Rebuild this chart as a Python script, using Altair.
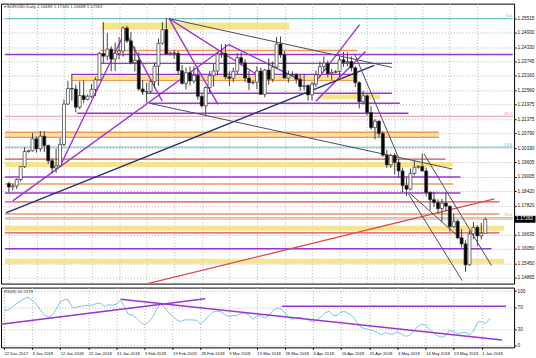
import altair as alt
import pandas as pd

# ---------------- data ----------------
date_labels = ["22 Dec 2017", "3 Jan 2018", "12 Jan 2018", "22 Jan 2018", "31 Jan 2018",
               "9 Feb 2018", "19 Feb 2018", "28 Feb 2018", "9 Mar 2018", "19 Mar 2018",
               "28 Mar 2018", "6 Apr 2018", "16 Apr 2018", "25 Apr 2018", "4 May 2018",
               "14 May 2018", "23 May 2018", "1 Jun 2018"]
label_bars = [-2, 5, 12, 19, 26, 33, 40, 47, 54, 61, 68, 75, 82, 89, 96, 103, 110, 117]

price_ticks = [1.25515, 1.24930, 1.24330, 1.23745, 1.23160, 1.22560, 1.21975, 1.21375,
               1.20790, 1.20190, 1.19605, 1.19005, 1.18420, 1.17820, 1.16635, 1.16050,
               1.15450, 1.14865]
rsi_ticks = [0, 30, 70, 100]

opens = [1.1873, 1.1860, 1.1863, 1.1890, 1.1943, 1.2005, 1.2008, 1.2057, 1.2016, 1.2068,
         1.2030, 1.1967, 1.1937, 1.1946, 1.2034, 1.2200, 1.2264, 1.2262, 1.2187, 1.2235,
         1.2219, 1.2232, 1.2260, 1.2300, 1.2408, 1.2397, 1.2426, 1.2385, 1.2409, 1.2418,
         1.2513, 1.2460, 1.2370, 1.2380, 1.2262, 1.2250, 1.2252, 1.2292, 1.2356, 1.2450,
         1.2506, 1.2406, 1.2410, 1.2409, 1.2337, 1.2285, 1.2329, 1.2295, 1.2318, 1.2232,
         1.2193, 1.2268, 1.2317, 1.2336, 1.2406, 1.2409, 1.2312, 1.2306, 1.2335, 1.2391,
         1.2370, 1.2307, 1.2288, 1.2290, 1.2336, 1.2240, 1.2340, 1.2302, 1.2352, 1.2447,
         1.2403, 1.2307, 1.2322, 1.2322, 1.2302, 1.2272, 1.2276, 1.2238, 1.2282, 1.2320,
         1.2354, 1.2368, 1.2325, 1.2330, 1.2334, 1.2382, 1.2371, 1.2375, 1.2349, 1.2288,
         1.2210, 1.2234, 1.2165, 1.2103, 1.2130, 1.2079, 1.1990, 1.1950, 1.1989, 1.1960,
         1.1925, 1.1865, 1.1850, 1.1915, 1.1940, 1.1944, 1.1925, 1.1837, 1.1807, 1.1795,
         1.1770, 1.1793, 1.1780, 1.1696, 1.1718, 1.1650, 1.1625, 1.1539, 1.1666, 1.1693,
         1.1658, 1.16689]
highs = [1.1880, 1.1873, 1.1895, 1.1945, 1.2023, 1.2012, 1.2081, 1.2066, 1.2089, 1.2088,
         1.2033, 1.1976, 1.2017, 1.2060, 1.2219, 1.2296, 1.2323, 1.2280, 1.2294, 1.2297,
         1.2240, 1.2283, 1.2311, 1.2415, 1.2537, 1.2493, 1.2437, 1.2454, 1.2476, 1.2520,
         1.2522, 1.2497, 1.2436, 1.2413, 1.2298, 1.2287, 1.2299, 1.2371, 1.2470, 1.2537,
         1.2555, 1.2415, 1.2422, 1.2417, 1.2361, 1.2350, 1.2355, 1.2355, 1.2347, 1.2240,
         1.2273, 1.2336, 1.2365, 1.2414, 1.2446, 1.2447, 1.2335, 1.2350, 1.2409, 1.2413,
         1.2385, 1.2336, 1.2296, 1.2356, 1.2350, 1.2345, 1.2388, 1.2375, 1.2476, 1.2478,
         1.2418, 1.2338, 1.2335, 1.2327, 1.2320, 1.2322, 1.2283, 1.2292, 1.2338, 1.2375,
         1.2396, 1.2379, 1.2345, 1.2340, 1.2396, 1.2414, 1.2413, 1.2396, 1.2355, 1.2294,
         1.2255, 1.2240, 1.2191, 1.2138, 1.2133, 1.2088, 1.2012, 1.1996, 1.1998, 1.1975,
         1.1939, 1.1896, 1.1935, 1.1968, 1.1948, 1.1997, 1.1939, 1.1841, 1.1839, 1.1808,
         1.1810, 1.1836, 1.1782, 1.1749, 1.1725, 1.1686, 1.1640, 1.1680, 1.1715, 1.1702,
         1.1712, 1.17335]
lows = [1.1838, 1.1845, 1.1851, 1.1881, 1.1937, 1.2000, 1.2005, 1.2000, 1.2005, 1.2003,
        1.1954, 1.1915, 1.1917, 1.1943, 1.2028, 1.2196, 1.2214, 1.2166, 1.2179, 1.2203,
        1.2215, 1.2225, 1.2233, 1.2298, 1.2368, 1.2380, 1.2335, 1.2336, 1.2384, 1.2395,
        1.2451, 1.2363, 1.2334, 1.2255, 1.2237, 1.2206, 1.2245, 1.2264, 1.2275, 1.2445,
        1.2402, 1.2400, 1.2386, 1.2322, 1.2280, 1.2260, 1.2276, 1.2286, 1.2218, 1.2186,
        1.2154, 1.2247, 1.2272, 1.2318, 1.2390, 1.2302, 1.2273, 1.2290, 1.2321, 1.2360,
        1.2290, 1.2258, 1.2280, 1.2261, 1.2239, 1.2228, 1.2280, 1.2290, 1.2345, 1.2390,
        1.2306, 1.2288, 1.2313, 1.2285, 1.2255, 1.2256, 1.2214, 1.2215, 1.2270, 1.2310,
        1.2336, 1.2310, 1.2300, 1.2326, 1.2308, 1.2353, 1.2355, 1.2335, 1.2270, 1.2182,
        1.2198, 1.2154, 1.2095, 1.2055, 1.2063, 1.1983, 1.1938, 1.1938, 1.1911, 1.1897,
        1.1838, 1.1822, 1.1846, 1.1907, 1.1935, 1.1923, 1.1820, 1.1763, 1.1777, 1.1749,
        1.1717, 1.1760, 1.1676, 1.1691, 1.1645, 1.1610, 1.1510, 1.1535, 1.1644, 1.1617,
        1.1643, 1.16688]
closes = [1.1859, 1.1863, 1.1890, 1.1943, 1.2005, 1.2008, 1.2057, 1.2016, 1.2068, 1.2030,
          1.1967, 1.1937, 1.1946, 1.2034, 1.2200, 1.2264, 1.2262, 1.2187, 1.2235, 1.2219,
          1.2232, 1.2260, 1.2300, 1.2408, 1.2397, 1.2426, 1.2385, 1.2409, 1.2418, 1.2513,
          1.2460, 1.2370, 1.2380, 1.2262, 1.2250, 1.2252, 1.2292, 1.2356, 1.2450, 1.2506,
          1.2406, 1.2410, 1.2409, 1.2337, 1.2285, 1.2329, 1.2295, 1.2318, 1.2232, 1.2193,
          1.2268, 1.2317, 1.2336, 1.2406, 1.2409, 1.2312, 1.2306, 1.2335, 1.2391, 1.2370,
          1.2307, 1.2288, 1.2290, 1.2336, 1.2240, 1.2340, 1.2302, 1.2352, 1.2447, 1.2403,
          1.2307, 1.2322, 1.2322, 1.2302, 1.2272, 1.2276, 1.2238, 1.2282, 1.2320, 1.2354,
          1.2368, 1.2325, 1.2330, 1.2334, 1.2382, 1.2371, 1.2375, 1.2349, 1.2288, 1.2210,
          1.2234, 1.2165, 1.2103, 1.2130, 1.2079, 1.1990, 1.1950, 1.1989, 1.1960, 1.1925,
          1.1865, 1.1850, 1.1915, 1.1940, 1.1944, 1.1925, 1.1837, 1.1807, 1.1795, 1.1770,
          1.1793, 1.1780, 1.1696, 1.1718, 1.1650, 1.1625, 1.1539, 1.1666, 1.1693, 1.1658,
          1.1669, 1.17263]
rsi_values = [64, 65, 70, 76, 81, 86, 89, 83, 77, 66,
              56, 52, 55, 67, 80, 84, 84, 70, 70, 72,
              73, 74, 74, 77, 78, 72, 75, 74, 76, 83,
              72, 57, 56, 50, 43, 38, 43, 52, 66, 77,
              70, 60, 54, 47, 44, 47, 47, 47, 46, 39,
              46, 54, 61, 63, 62, 57, 53, 55, 55, 59,
              60, 56, 48, 54, 55, 50, 55, 64, 69, 67,
              60, 51, 48, 51, 51, 49, 46, 43, 47, 53,
              60, 63, 55, 55, 62, 62, 58, 52, 42, 33,
              31, 29, 27, 24, 19, 24, 21, 21, 25, 21,
              17, 18, 26, 34, 39, 38, 29, 23, 18, 15,
              18, 28, 25, 22, 23, 24, 19, 27, 43, 44,
              40, 50]

# horizontal levels: price, from bar, to bar, kind
h_levels = [1.25515, 1.24204, 1.24040, 1.23672, 1.23221, 1.22975, 1.22443, 1.22033,
            1.21623, 1.21500, 1.20845, 1.20640, 1.20230, 1.19739, 1.19001, 1.18715,
            1.18346, 1.17977, 1.17485, 1.17322, 1.16707, 1.16052, 1.17263]
h_from = [-3, 21.3, -3, 21.3, 13.9, 13.9, 32.8, 33.7, 15.4, -3, -3, -3, -3, -3, -3, -3,
          -3, -3, -3, -3, -3, -3, -3]
h_to = [126, 86.6, 126, 95.3, 86.6, 86.6, 95.3, 97.3, 99.5, 126, 107.2, 107.2, 126, 108.9,
        112.7, 110.9, 112.7, 122.6, 122.6, 126, 122.6, 120.6, 126]
h_kind = ["teal", "orange", "purple", "purple", "purple", "orange", "purple", "purple",
          "purple", "pink", "orange", "orange", "teal", "red", "purple", "orange",
          "purple", "red", "orange", "pink", "red", "purple", "bid"]

# yellow zones
band_lo = [1.25064, 1.23016, 1.22197, 1.20681, 1.19411, 1.16788, 1.15437]
band_hi = [1.25351, 1.23180, 1.22402, 1.20804, 1.19616, 1.16993, 1.15642]
band_from = [21.6, 13.9, 76.7, -3, -3, -3, -3]
band_to = [69.2, 86.6, 92.3, 107.2, 110.7, 123.8, 123.8]

# trend lines: bar1, price1, bar2, price2, kind
t_bar1 = [-0.99, 10.92, 27.54, 38.71, 38.71, 53.85, 73.45, 75.93, -2.73, 38.71, 33.75,
          33.25, 85.86, 103.47, 99.50, 99.75]
t_p1 = [1.18018, 1.19411, 1.24982, 1.25515, 1.25515, 1.24450, 1.22402, 1.22115, 1.17527,
        1.25515, 1.22033, 1.14618, 1.24040, 1.19944, 1.18305, 1.18346]
t_bar2 = [53.85, 27.54, 36.97, 51.12, 62.53, 71.71, 87.10, 88.59, 90.82, 95.29, 110.67,
          121.34, 97.02, 120.6, 113.15, 113.40]
t_p2 = [1.24450, 1.24982, 1.22115, 1.21992, 1.23057, 1.23016, 1.25269, 1.24163, 1.23590,
        1.23508, 1.19329, 1.18100, 1.19780, 1.15355, 1.14741, 1.16379]
t_kind = ["purple", "purple", "purple", "purple", "purple", "purple", "purple", "purple",
          "navy", "dark", "dark", "red", "dark", "dark", "dark", "dark"]

# RSI trend lines
r_bar1 = [-2.73, 27.05, 67.25]
r_v1 = [39, 85, 72]
r_bar2 = [48.14, 122.08, 123.08]
r_v2 = [86, 10, 72]

fib_text = ["0.0", "38.2", "23.6", "76.4"]
fib_price = [1.25515, 1.21500, 1.20230, 1.17322]
fib_kind = ["teal", "pink", "teal", "pink"]

header = "\u25be EURUSD,Daily  1.16689 1.17335 1.16688 1.17263"
rsi_header = "RSI(8) 50.2379"
last_price = 1.17263

# ---------------- styles ----------------
palette = {"purple": "#9a36d0", "orange": "#ec9a5c", "teal": "#62bcc6", "pink": "#e89aaa",
           "red": "#e04848", "navy": "#26306e", "dark": "#4c4c5c", "bid": "#c0c8d0"}
widths = {"purple": 1.4, "orange": 1.5, "teal": 1.0, "pink": 1.2, "red": 1.3,
          "navy": 1.4, "dark": 1.0, "bid": 1.0}
FONT = "Liberation Sans"
GRID = "#b4b4b4"

bars = list(range(-2, -2 + len(closes)))
candles = pd.DataFrame({"bar": bars, "o": opens, "h": highs, "l": lows, "c": closes})
candles["fillc"] = ["#ffffff" if c >= o else "#000000" for o, c in zip(opens, closes)]

hl = pd.DataFrame({"p": h_levels, "b1": h_from, "b2": h_to,
                   "col": [palette[k] for k in h_kind], "w": [widths[k] for k in h_kind]})
bands = pd.DataFrame({"lo": band_lo, "hi": band_hi, "b1": band_from, "b2": band_to})
tl = pd.DataFrame({"b1": t_bar1, "p1": t_p1, "b2": t_bar2, "p2": t_p2,
                   "col": [palette[k] for k in t_kind], "w": [widths[k] for k in t_kind]})
rsi_df = pd.DataFrame({"bar": bars, "v": rsi_values})
rtl = pd.DataFrame({"b1": r_bar1, "v1": r_v1, "b2": r_bar2, "v2": r_v2})
fib = pd.DataFrame({"t": fib_text, "p": fib_price, "col": [palette[k] for k in fib_kind]})
lastdf = pd.DataFrame({"p": [last_price], "t": [f"{last_price:.5f}"]})

XDOM = [-2.73, 125.06]
PDOM = [1.14618, 1.26130]
RDOM = [-3.6, 106.4]
W = 515

xscale = alt.Scale(domain=XDOM, nice=False, zero=False)
pscale = alt.Scale(domain=PDOM, nice=False, zero=False)
rscale = alt.Scale(domain=RDOM, nice=False, zero=False)

x_axis_top = alt.Axis(values=label_bars, labels=False, ticks=False, domain=False, grid=True,
                      gridDash=[1, 2], gridColor=GRID, title=None)
label_js = "[" + ",".join("'" + d + "'" for d in date_labels) + "]"
x_axis_bot = alt.Axis(values=label_bars, grid=True, gridDash=[1, 2], gridColor=GRID, title=None,
                      labelExpr=label_js + "[round((datum.value + 2) / 7)]",
                      labelAlign="left", labelFontSize=4.2, labelPadding=2, tickSize=2,
                      tickColor="#000", domain=False, labelFont=FONT, labelColor="#111")
p_axis = alt.Axis(orient="right", values=price_ticks, format=".5f", labelFontSize=4.7,
                  tickSize=2, labelPadding=1, grid=True, gridDash=[1, 2], gridColor=GRID,
                  domain=False, title=None, labelFont=FONT, labelColor="#111", tickColor="#000")
r_axis = alt.Axis(orient="right", values=rsi_ticks, labelFontSize=4.7, tickSize=2,
                  labelPadding=1, grid=True, gridDash=[1, 2], gridColor=GRID, domain=False,
                  title=None, labelFont=FONT, labelColor="#111", tickColor="#000")


def X(f):
    return alt.X(f, type="quantitative", scale=xscale, axis=x_axis_top)


def P(f):
    return alt.Y(f, type="quantitative", scale=pscale, axis=p_axis)


band_layer = alt.Chart(bands).mark_rect(color="#f6e07a", opacity=0.85, clip=True).encode(
    x=X("b1"), x2="b2", y=P("lo"), y2="hi")
hl_layer = alt.Chart(hl).mark_rule(clip=True).encode(
    x=X("b1"), x2="b2", y=P("p"),
    color=alt.Color("col:N", scale=None), strokeWidth=alt.StrokeWidth("w:Q", scale=None))
tl_layer = alt.Chart(tl).mark_rule(clip=True).encode(
    x=X("b1"), x2="b2", y=P("p1"), y2="p2",
    color=alt.Color("col:N", scale=None), strokeWidth=alt.StrokeWidth("w:Q", scale=None))
wick = alt.Chart(candles).mark_rule(color="#444444", strokeWidth=1).encode(
    x=X("bar"), y=P("l"), y2="h")
body = alt.Chart(candles).mark_bar(size=3, stroke="#333333", strokeWidth=0.7).encode(
    x=X("bar"), y=P("o"), y2="c", fill=alt.Fill("fillc:N", scale=None))
fib_layer = alt.Chart(fib).mark_text(align="right", baseline="bottom", fontSize=4.2, dy=-0.5,
                                     font=FONT).encode(
    x=alt.value(W - 2), y=P("p"), text="t:N", color=alt.Color("col:N", scale=None))
last_box = alt.Chart(lastdf).mark_point(
    shape="M-1,-0.33L1,-0.33L1,0.33L-1,0.33Z", filled=True, color="#000000", opacity=1,
    size=441).encode(x=alt.value(W + 11), y=P("p"))
last_txt = alt.Chart(lastdf).mark_text(align="left", baseline="middle", fontSize=4.7,
                                       color="#ffffff", font=FONT).encode(
    x=alt.value(W + 2), y=P("p"), text="t:N")
head = alt.Chart(pd.DataFrame({"t": [header]})).mark_text(
    align="left", baseline="middle", fontSize=4.3, color="#333333", font=FONT).encode(
    x=alt.value(3), y=alt.value(3.5), text="t:N")

price = alt.layer(band_layer, hl_layer, tl_layer, wick, body, fib_layer, last_box, last_txt,
                  head).properties(width=W, height=281)


def XR(f):
    return alt.X(f, type="quantitative", scale=xscale, axis=x_axis_bot)


def R(f):
    return alt.Y(f, type="quantitative", scale=rscale, axis=r_axis)


rsi_line = alt.Chart(rsi_df).mark_line(color="#7cc4e0", strokeWidth=1).encode(
    x=XR("bar"), y=R("v"))
rsi_tl = alt.Chart(rtl).mark_rule(color="#9a36d0", strokeWidth=1.5, clip=True).encode(
    x=XR("b1"), x2="b2", y=R("v1"), y2="v2")
rsi_head = alt.Chart(pd.DataFrame({"t": [rsi_header]})).mark_text(
    align="left", baseline="middle", fontSize=4.3, color="#333333", font=FONT).encode(
    x=alt.value(3), y=alt.value(4), text="t:N")
rsi = alt.layer(rsi_line, rsi_tl, rsi_head).properties(width=W, height=60)

chart = alt.vconcat(price, rsi, spacing=2).properties(
    padding={"left": 0, "top": 2, "right": 0, "bottom": 0},
    background="#ffffff",
).configure_view(stroke="#000000", strokeWidth=1)

chart.save("out.html", embed_options={"renderer": "svg", "actions": False})
